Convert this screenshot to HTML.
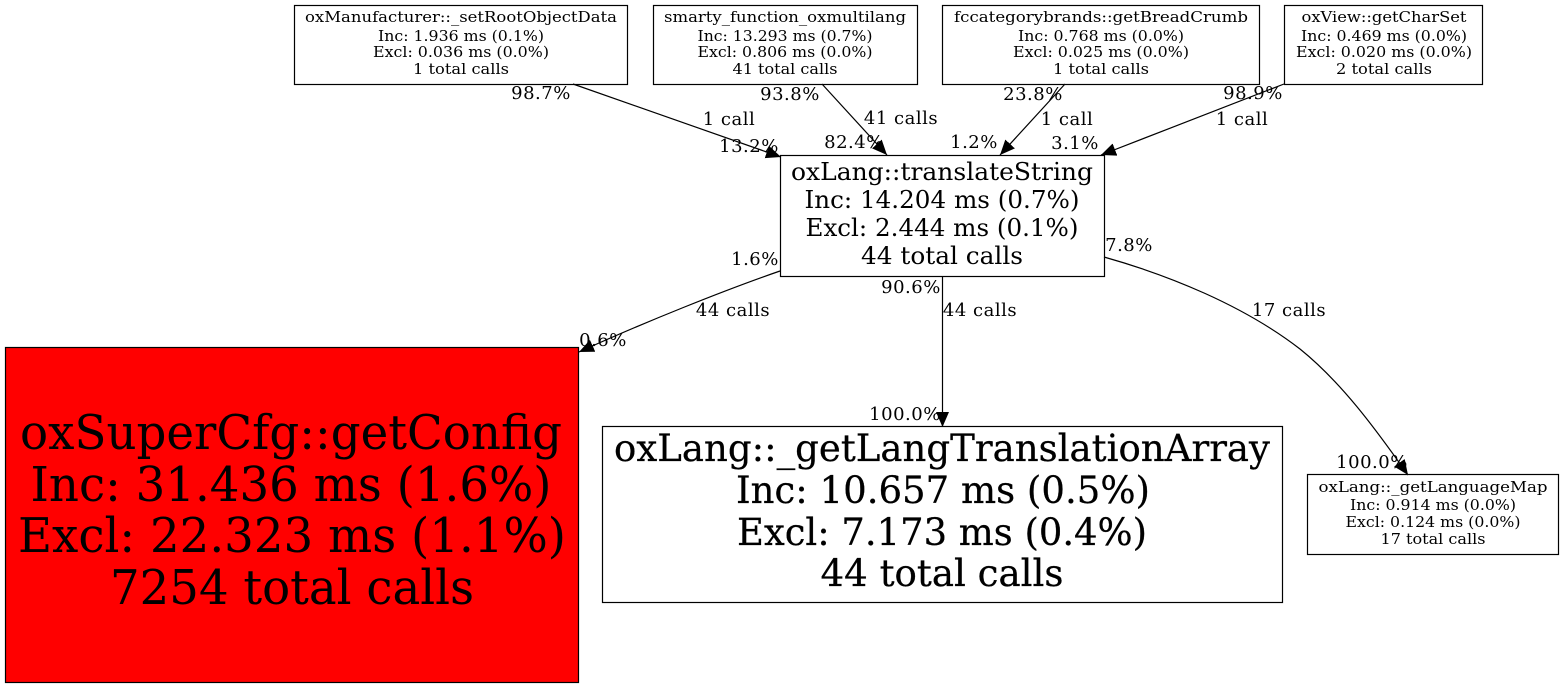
<!DOCTYPE html>
<html><head><meta charset="utf-8"><style>
html,body{margin:0;padding:0;background:#fff;width:1564px;height:688px;overflow:hidden}
svg{display:block}
text{font-family:"DejaVu Serif","Liberation Serif",serif;fill:#000;text-anchor:middle}
.s{font-size:15px}
.m{font-size:24.5px}
.b{font-size:48px}
.a{font-size:37px;stroke:#000;stroke-width:.25px}
.t{font-size:14.5px}
.e text{font-size:18px;letter-spacing:.5px}
</style></head><body>
<svg width="1564" height="688" viewBox="0 0 1564 688">
<defs><marker id="a" markerWidth="16" markerHeight="14" refX="15" refY="6.500" orient="auto" markerUnits="userSpaceOnUse"><path d="M0,0L15,6.500L0,13z" fill="#000"/></marker></defs>
<g fill="#fff" stroke="#000" stroke-width="1.2">
<rect x="294.500" y="5.500" width="333" height="79"/>
<rect x="653.500" y="5.500" width="264" height="79"/>
<rect x="942.500" y="5.500" width="317" height="79"/>
<rect x="1284.500" y="5.500" width="198" height="79"/>
<rect x="780.500" y="155.500" width="324" height="121"/>
<rect x="5.500" y="347.500" width="573" height="335" fill="#f00"/>
<rect x="602.500" y="426.500" width="680" height="176"/>
<rect x="1307.500" y="474.500" width="251" height="80"/>
</g>
<g fill="none" stroke="#000" stroke-width="1.2">
<path d="M573,84L781,157" marker-end="url(#a)"/>
<path d="M822,84L887,155" marker-end="url(#a)"/>
<path d="M1065,84L1000,155" marker-end="url(#a)"/>
<path d="M1284,84L1101,155" marker-end="url(#a)"/>
<path d="M780,271C725,290 645,322 579,352" marker-end="url(#a)"/>
<path d="M942.500,277L942.500,427" marker-end="url(#a)"/>
<path d="M1104,257C1168,275 1243,305 1300,349C1341,382 1375,428 1408,475" marker-end="url(#a)"/>
</g>
<g>
<text x="461" y="22" class="s" textLength="312" lengthAdjust="spacingAndGlyphs">oxManufacturer::_setRootObjectData</text>
<text x="461" y="41" class="s" textLength="166" lengthAdjust="spacingAndGlyphs">Inc: 1.936 ms (0.1%)</text>
<text x="461" y="57" class="s" textLength="176" lengthAdjust="spacingAndGlyphs">Excl: 0.036 ms (0.0%)</text>
<text x="461" y="74" class="s" textLength="96" lengthAdjust="spacingAndGlyphs">1 total calls</text>
<text x="785" y="22" class="s" textLength="242" lengthAdjust="spacingAndGlyphs">smarty_function_oxmultilang</text>
<text x="785" y="41" class="s" textLength="175" lengthAdjust="spacingAndGlyphs">Inc: 13.293 ms (0.7%)</text>
<text x="785" y="57" class="s" textLength="175" lengthAdjust="spacingAndGlyphs">Excl: 0.806 ms (0.0%)</text>
<text x="785" y="74" class="s" textLength="105" lengthAdjust="spacingAndGlyphs">41 total calls</text>
<text x="1101" y="22" class="s" textLength="294" lengthAdjust="spacingAndGlyphs">fccategorybrands::getBreadCrumb</text>
<text x="1101" y="41" class="s" textLength="166" lengthAdjust="spacingAndGlyphs">Inc: 0.768 ms (0.0%)</text>
<text x="1101" y="57" class="s" textLength="176" lengthAdjust="spacingAndGlyphs">Excl: 0.025 ms (0.0%)</text>
<text x="1101" y="74" class="s" textLength="96" lengthAdjust="spacingAndGlyphs">1 total calls</text>
<text x="1384" y="22" class="s" textLength="165" lengthAdjust="spacingAndGlyphs">oxView::getCharSet</text>
<text x="1384" y="41" class="s" textLength="166" lengthAdjust="spacingAndGlyphs">Inc: 0.469 ms (0.0%)</text>
<text x="1384" y="57" class="s" textLength="176" lengthAdjust="spacingAndGlyphs">Excl: 0.020 ms (0.0%)</text>
<text x="1384" y="74" class="s" textLength="96" lengthAdjust="spacingAndGlyphs">2 total calls</text>

<text x="942" y="180" class="m" textLength="302" lengthAdjust="spacingAndGlyphs">oxLang::translateString</text>
<text x="942" y="208" class="m" textLength="275" lengthAdjust="spacingAndGlyphs">Inc: 14.204 ms (0.7%)</text>
<text x="942" y="236" class="m" textLength="273" lengthAdjust="spacingAndGlyphs">Excl: 2.444 ms (0.1%)</text>
<text x="942" y="264" class="m" textLength="162" lengthAdjust="spacingAndGlyphs">44 total calls</text>

<text x="291" y="449" class="b" textLength="542" lengthAdjust="spacingAndGlyphs">oxSuperCfg::getConfig</text>
<text x="291" y="501" class="b" textLength="521" lengthAdjust="spacingAndGlyphs">Inc: 31.436 ms (1.6%)</text>
<text x="292" y="552" class="b" textLength="548" lengthAdjust="spacingAndGlyphs">Excl: 22.323 ms (1.1%)</text>
<text x="292" y="604" class="b" textLength="364" lengthAdjust="spacingAndGlyphs">7254 total calls</text>

<text x="942" y="461" class="a" textLength="656" lengthAdjust="spacingAndGlyphs">oxLang::_getLangTranslationArray</text>
<text x="943" y="503" class="a" textLength="414" lengthAdjust="spacingAndGlyphs">Inc: 10.657 ms (0.5%)</text>
<text x="942" y="545" class="a" textLength="410" lengthAdjust="spacingAndGlyphs">Excl: 7.173 ms (0.4%)</text>
<text x="942" y="586" class="a" textLength="243" lengthAdjust="spacingAndGlyphs">44 total calls</text>

<text x="1433" y="492" class="t" textLength="229" lengthAdjust="spacingAndGlyphs">oxLang::_getLanguageMap</text>
<text x="1433" y="510" class="t" textLength="166" lengthAdjust="spacingAndGlyphs">Inc: 0.914 ms (0.0%)</text>
<text x="1433" y="527" class="t" textLength="175" lengthAdjust="spacingAndGlyphs">Excl: 0.124 ms (0.0%)</text>
<text x="1433" y="544" class="t" textLength="105" lengthAdjust="spacingAndGlyphs">17 total calls</text>
</g>
<g class="e">
<text x="541" y="99">98.7%</text><text x="729" y="125">1 call</text><text x="749" y="152">13.2%</text>
<text x="790" y="100">93.8%</text><text x="901" y="124">41 calls</text><text x="854" y="148">82.4%</text>
<text x="1033" y="100">23.8%</text><text x="1067" y="125">1 call</text><text x="974" y="148">1.2%</text>
<text x="1253" y="99">98.9%</text><text x="1242" y="125">1 call</text><text x="1075" y="149">3.1%</text>
<text x="755" y="265">1.6%</text><text x="733" y="316">44 calls</text><text x="603" y="346">0.6%</text>
<text x="911" y="293">90.6%</text><text x="980" y="316">44 calls</text><text x="905" y="420">100.0%</text>
<text x="1129" y="251">7.8%</text><text x="1289" y="316">17 calls</text><text x="1372" y="468">100.0%</text>
</g>
</svg>
</body></html>
